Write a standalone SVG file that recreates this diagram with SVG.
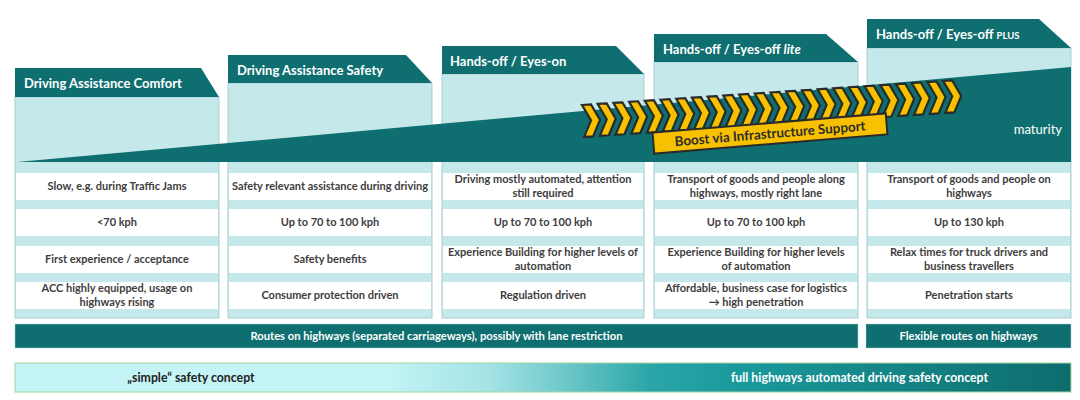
<svg xmlns="http://www.w3.org/2000/svg" width="1080" height="400" viewBox="0 0 1080 400">
<defs>
<style>
.hdr{fill:#0f6f70}
.body{fill:#c5e8ea;stroke:#a7d0d3;stroke-width:1}
.row{fill:#ffffff}
.ht{font-family:Lato,"Liberation Sans",sans-serif;font-weight:bold;font-size:13px;fill:#ffffff}
.rt{font-family:Lato,"Liberation Sans",sans-serif;font-weight:bold;font-size:11px;fill:#3d3d3d;text-anchor:middle}
.bt{font-family:Lato,"Liberation Sans",sans-serif;font-weight:bold;font-size:11.2px;fill:#ffffff;text-anchor:middle}
.gt{font-family:Lato,"Liberation Sans",sans-serif;font-weight:bold;font-size:12.3px;text-anchor:middle}
.chev{fill:#f7c100;stroke:#2a2a2a;stroke-width:2.2;stroke-linejoin:miter}
</style>
<linearGradient id="conc" x1="15" y1="0" x2="1071" y2="0" gradientUnits="userSpaceOnUse">
<stop offset="0" stop-color="#c4f4f6"/>
<stop offset="0.35" stop-color="#c4f4f6"/>
<stop offset="0.45" stop-color="#a3e3e5"/>
<stop offset="0.52" stop-color="#6ec8ca"/>
<stop offset="0.60" stop-color="#2ba6a8"/>
<stop offset="0.68" stop-color="#1a9a9c"/>
<stop offset="1" stop-color="#0e6c6e"/>
</linearGradient>
<path id="chv" class="chev" d="M0,0 L9,0 L17,16 L9,32 L0,32 L8,16 Z"/>
</defs>
<rect width="1080" height="400" fill="#ffffff"/>

<g id="col-comfort">
<rect class="body" x="15" y="97" width="204" height="221"/>
<polygon class="hdr" points="15,68 201,68 219,97 15,97"/>
<text class="ht" x="24" y="87.5">Driving Assistance Comfort</text>
<rect class="row" x="16" y="173" width="202" height="27"/>
<rect class="row" x="16" y="209" width="202" height="27"/>
<rect class="row" x="16" y="246" width="202" height="27"/>
<rect class="row" x="16" y="282" width="202" height="27"/>
<text class="rt" x="117" y="190">Slow, e.g. during Traffic Jams</text>
<text class="rt" x="117" y="226">&lt;70 kph</text>
<text class="rt" x="117" y="263">First experience / acceptance</text>
<text class="rt" x="117" y="292">ACC  highly equipped, usage on</text>
<text class="rt" x="117" y="306">highways rising</text>
</g>

<g id="col-safety">
<rect class="body" x="228" y="83" width="204" height="235"/>
<polygon class="hdr" points="228,55 406,55 432,83 228,83"/>
<text class="ht" x="237" y="74.5">Driving Assistance Safety</text>
<rect class="row" x="229" y="173" width="202" height="27"/>
<rect class="row" x="229" y="209" width="202" height="27"/>
<rect class="row" x="229" y="246" width="202" height="27"/>
<rect class="row" x="229" y="282" width="202" height="27"/>
<text class="rt" x="330" y="190">Safety relevant assistance during driving</text>
<text class="rt" x="330" y="226">Up to 70 to 100 kph</text>
<text class="rt" x="330" y="263">Safety benefits</text>
<text class="rt" x="330" y="299">Consumer protection driven</text>
</g>

<g id="col-eyes-on">
<rect class="body" x="442" y="74" width="202" height="244"/>
<polygon class="hdr" points="442,46 616,46 644,74 442,74"/>
<text class="ht" x="450" y="65.5">Hands-off / Eyes-on</text>
<rect class="row" x="443" y="173" width="200" height="27"/>
<rect class="row" x="443" y="209" width="200" height="27"/>
<rect class="row" x="443" y="246" width="200" height="27"/>
<rect class="row" x="443" y="282" width="200" height="27"/>
<text class="rt" x="543" y="183">Driving mostly automated, attention</text>
<text class="rt" x="543" y="197">still required</text>
<text class="rt" x="543" y="226">Up to 70 to 100 kph</text>
<text class="rt" x="543" y="256">Experience Building for higher levels of</text>
<text class="rt" x="543" y="270">automation</text>
<text class="rt" x="543" y="299">Regulation driven</text>
</g>

<g id="col-eyes-off-lite">
<rect class="body" x="654" y="62" width="204" height="256"/>
<polygon class="hdr" points="654,34 826,34 858,62 654,62"/>
<text class="ht" x="663" y="53.5">Hands-off / Eyes-off <tspan font-style="italic">lite</tspan></text>
<rect class="row" x="655" y="173" width="202" height="27"/>
<rect class="row" x="655" y="209" width="202" height="27"/>
<rect class="row" x="655" y="246" width="202" height="27"/>
<rect class="row" x="655" y="282" width="202" height="27"/>
<text class="rt" x="756" y="183">Transport of goods and people along</text>
<text class="rt" x="756" y="197">highways, mostly right lane</text>
<text class="rt" x="756" y="226">Up to 70 to 100 kph</text>
<text class="rt" x="756" y="256">Experience Building for higher levels</text>
<text class="rt" x="756" y="270">of automation</text>
<text class="rt" x="756" y="292">Affordable, business case for logistics</text>
<text class="rt" x="756" y="306">→ high penetration</text>
</g>

<g id="col-eyes-off-plus">
<rect class="body" x="867" y="48" width="204" height="270"/>
<polygon class="hdr" points="867,19 1039,19 1071,48 867,48"/>
<text class="ht" x="876" y="38.5">Hands-off / Eyes-off <tspan font-size="9.5px">PLUS</tspan></text>
<rect class="row" x="868" y="173" width="202" height="27"/>
<rect class="row" x="868" y="209" width="202" height="27"/>
<rect class="row" x="868" y="246" width="202" height="27"/>
<rect class="row" x="868" y="282" width="202" height="27"/>
<text class="rt" x="969" y="183">Transport of goods and people on</text>
<text class="rt" x="969" y="197">highways</text>
<text class="rt" x="969" y="226">Up to 130 kph</text>
<text class="rt" x="969" y="256">Relax times for truck drivers and</text>
<text class="rt" x="969" y="270">business travellers</text>
<text class="rt" x="969" y="299">Penetration starts</text>
</g>

<g id="maturity">
<polygon class="hdr" points="17,162 1071,67 1071,162"/>
<text x="1062" y="134" text-anchor="end" font-family="Lato,'Liberation Sans',sans-serif" font-size="13px" fill="#ffffff">maturity</text>
</g>

<g id="boost-chevrons" transform="translate(582,105) rotate(-3.8)">
<use href="#chv" x="0"/><use href="#chv" x="15.74"/><use href="#chv" x="31.48"/><use href="#chv" x="47.22"/>
<use href="#chv" x="62.96"/><use href="#chv" x="78.7"/><use href="#chv" x="94.44"/><use href="#chv" x="110.18"/>
<use href="#chv" x="125.92"/><use href="#chv" x="141.66"/><use href="#chv" x="157.4"/><use href="#chv" x="173.14"/>
<use href="#chv" x="188.88"/><use href="#chv" x="204.62"/><use href="#chv" x="220.36"/><use href="#chv" x="236.1"/>
<use href="#chv" x="251.84"/><use href="#chv" x="267.58"/><use href="#chv" x="283.32"/><use href="#chv" x="299.06"/>
<use href="#chv" x="314.8"/><use href="#chv" x="330.54"/><use href="#chv" x="346.28"/><use href="#chv" x="362.02"/>
</g>

<g id="boost-label" transform="translate(770,133.5) rotate(-4.7)">
<rect x="-117" y="-10.5" width="234" height="21" fill="#f7c100" stroke="#2a2a2a" stroke-width="2"/>
<text x="0" y="4.8" text-anchor="middle" font-family="Lato,'Liberation Sans',sans-serif" font-weight="bold" font-size="13.4px" fill="#2d2d2d">Boost via Infrastructure Support</text>
</g>

<g id="routes-bar">
<rect x="15" y="324" width="843" height="24" fill="#0f6f70" stroke="#a7d0d3" stroke-width="0.5"/>
<text class="bt" x="436.5" y="339.8">Routes on highways (separated carriageways), possibly with lane restriction</text>
</g>
<g id="flexible-bar">
<rect x="866" y="324" width="205" height="24" fill="#0f6f70" stroke="#a7d0d3" stroke-width="0.5"/>
<text class="bt" x="968.5" y="339.8">Flexible routes on highways</text>
</g>

<g id="safety-concept-bar">
<rect x="15" y="363" width="1056" height="29" fill="url(#conc)" stroke="#a3d6a0" stroke-width="1"/>
<text class="gt" x="191" y="381.8" fill="#222222">„simple“ safety concept</text>
<text class="gt" x="859.5" y="381.8" fill="#ffffff">full highways automated driving safety concept</text>
</g>

<g id="connectors"/>
</svg>
